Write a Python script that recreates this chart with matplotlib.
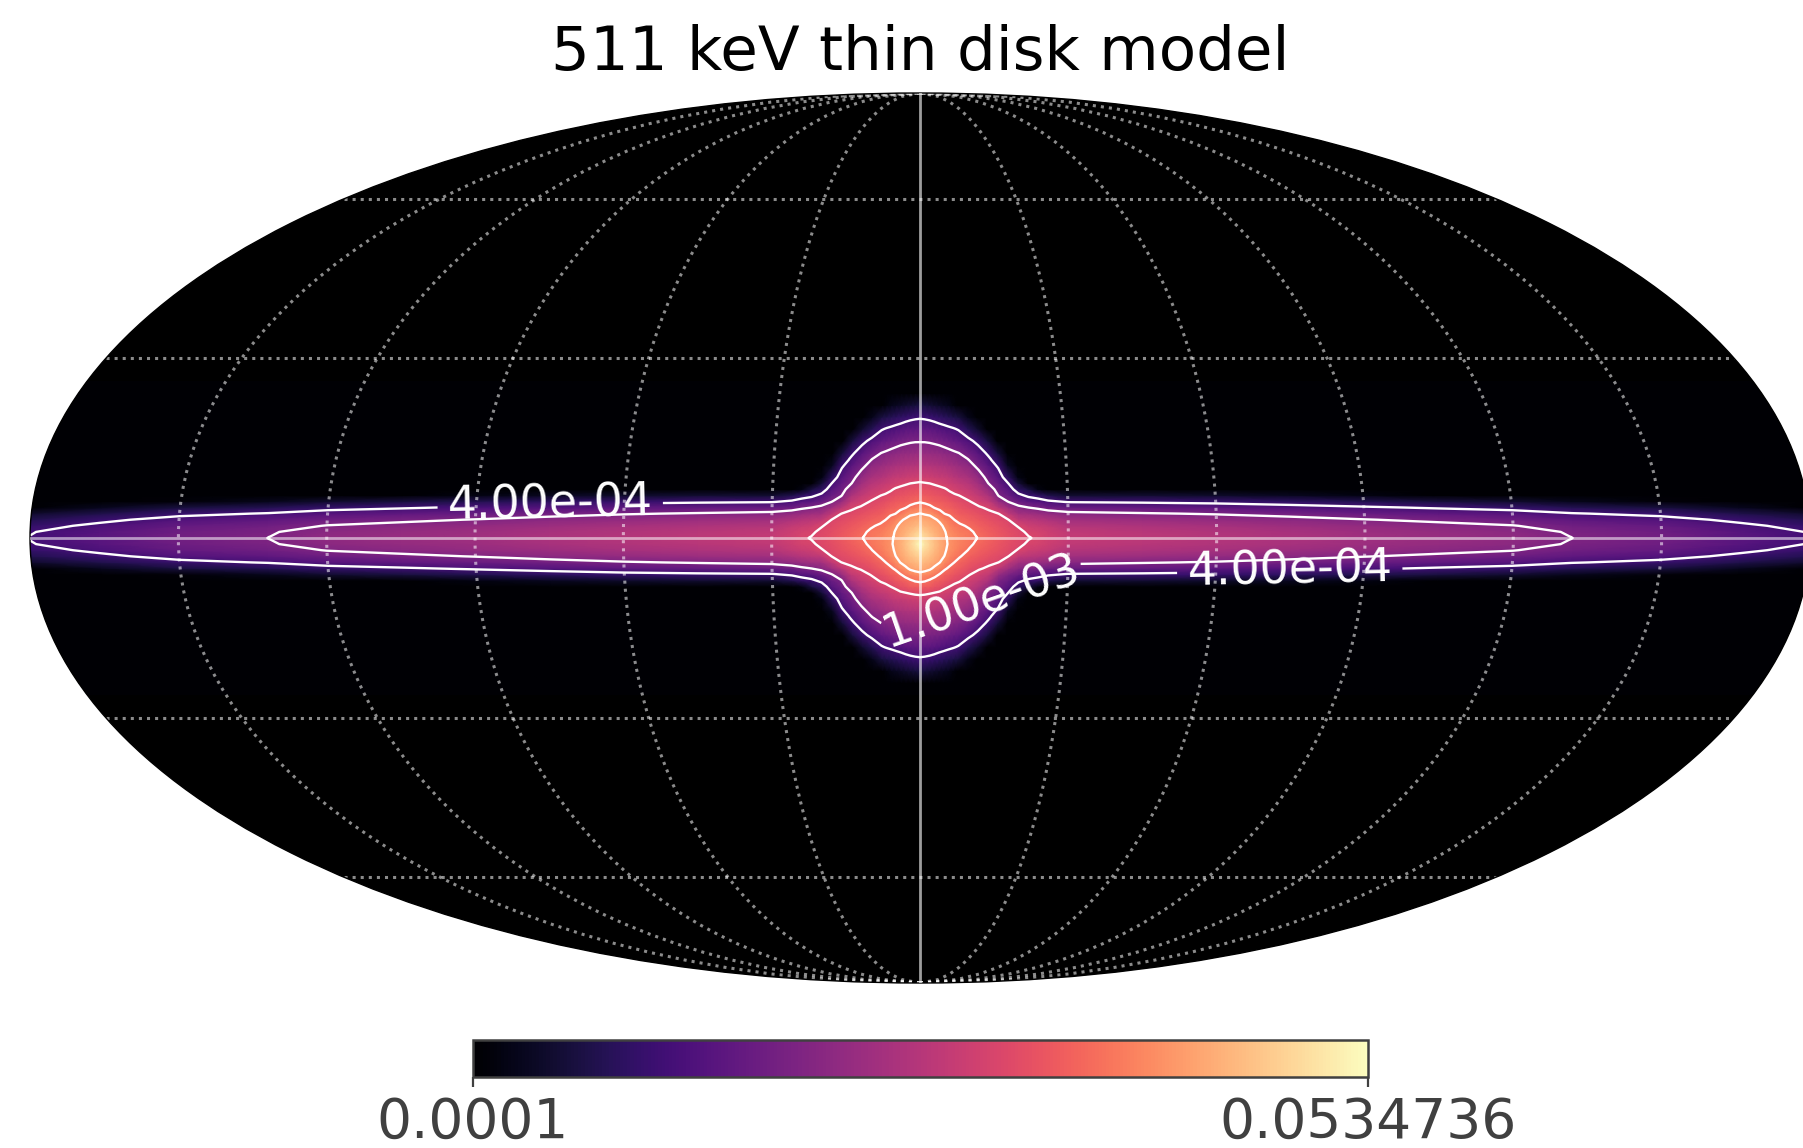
import numpy as np
import matplotlib
matplotlib.use("Agg")
import matplotlib.pyplot as plt
from matplotlib.colors import LogNorm
from matplotlib.cm import ScalarMappable

# Galactic lon/lat nodes [deg], one quadrant, log10(flux)
lon_nodes = [0, 1, 2, 3, 4, 5, 6, 7, 8, 10, 12, 14, 16, 18, 20, 22, 24, 26, 30, 45, 60, 75, 90, 105, 120, 132, 150, 166, 180]
lat_nodes = [0, 1, 2, 3, 4, 5, 6, 7, 8, 9, 10, 12, 14, 16, 18, 20, 22, 24, 26]
log_flux = [
    [-1.27, -1.38, -1.50, -1.62, -1.74, -1.88, -2.06, -2.19, -2.29, -2.38, -2.47, -2.65, -2.83, -3.02, -3.22, -3.43, -3.68, -3.98, -4.30],
    [-1.40, -1.48, -1.58, -1.68, -1.78, -1.91, -2.08, -2.20, -2.30, -2.39, -2.48, -2.66, -2.84, -3.02, -3.23, -3.44, -3.71, -4.00, -4.30],
    [-1.52, -1.58, -1.65, -1.73, -1.82, -1.95, -2.11, -2.21, -2.30, -2.40, -2.49, -2.67, -2.85, -3.03, -3.24, -3.46, -3.74, -4.03, -4.30],
    [-1.63, -1.67, -1.72, -1.78, -1.88, -2.02, -2.14, -2.24, -2.33, -2.42, -2.51, -2.68, -2.86, -3.05, -3.26, -3.49, -3.77, -4.05, -4.30],
    [-1.74, -1.76, -1.79, -1.83, -1.94, -2.09, -2.18, -2.26, -2.35, -2.44, -2.53, -2.70, -2.88, -3.07, -3.29, -3.53, -3.80, -4.07, -4.30],
    [-1.82, -1.84, -1.87, -1.92, -2.02, -2.13, -2.21, -2.29, -2.38, -2.47, -2.55, -2.73, -2.91, -3.10, -3.32, -3.56, -3.83, -4.11, -4.30],
    [-1.89, -1.91, -1.95, -2.02, -2.10, -2.18, -2.25, -2.33, -2.41, -2.50, -2.58, -2.76, -2.94, -3.13, -3.35, -3.60, -3.87, -4.15, -4.30],
    [-1.94, -1.96, -2.00, -2.07, -2.14, -2.21, -2.29, -2.36, -2.45, -2.54, -2.62, -2.79, -2.97, -3.17, -3.38, -3.64, -3.93, -4.22, -4.30],
    [-1.98, -2.00, -2.05, -2.11, -2.18, -2.25, -2.33, -2.40, -2.49, -2.57, -2.66, -2.83, -3.00, -3.21, -3.42, -3.69, -4.00, -4.30, -4.30],
    [-2.05, -2.07, -2.11, -2.19, -2.26, -2.33, -2.39, -2.47, -2.56, -2.64, -2.73, -2.91, -3.11, -3.33, -3.59, -3.87, -4.20, -4.30, -4.30],
    [-2.11, -2.14, -2.19, -2.25, -2.31, -2.38, -2.47, -2.57, -2.67, -2.78, -2.88, -3.08, -3.27, -3.47, -3.77, -4.10, -4.30, -4.30, -4.30],
    [-2.18, -2.20, -2.25, -2.30, -2.36, -2.43, -2.57, -2.71, -2.86, -3.01, -3.09, -3.26, -3.44, -3.70, -4.00, -4.30, -4.30, -4.30, -4.30],
    [-2.25, -2.27, -2.30, -2.35, -2.40, -2.61, -2.84, -3.02, -3.11, -3.19, -3.27, -3.44, -3.72, -4.08, -4.30, -4.30, -4.30, -4.30, -4.30],
    [-2.31, -2.33, -2.36, -2.40, -2.59, -2.79, -3.02, -3.15, -3.27, -3.40, -3.55, -3.85, -4.15, -4.30, -4.30, -4.30, -4.30, -4.30, -4.30],
    [-2.36, -2.37, -2.41, -2.58, -2.76, -2.94, -3.14, -3.34, -3.53, -3.72, -3.91, -4.25, -4.30, -4.30, -4.30, -4.30, -4.30, -4.30, -4.30],
    [-2.39, -2.42, -2.49, -2.61, -2.78, -3.00, -3.25, -3.45, -3.68, -3.98, -4.20, -4.30, -4.30, -4.30, -4.30, -4.30, -4.30, -4.30, -4.30],
    [-2.42, -2.44, -2.52, -2.64, -2.82, -3.05, -3.29, -3.52, -3.91, -4.15, -4.30, -4.30, -4.30, -4.30, -4.30, -4.30, -4.30, -4.30, -4.30],
    [-2.47, -2.49, -2.56, -2.69, -2.87, -3.12, -3.36, -3.62, -4.00, -4.25, -4.30, -4.30, -4.30, -4.30, -4.30, -4.30, -4.30, -4.30, -4.30],
    [-2.55, -2.57, -2.65, -2.77, -2.94, -3.16, -3.43, -3.75, -4.11, -4.30, -4.30, -4.30, -4.30, -4.30, -4.30, -4.30, -4.30, -4.30, -4.30],
    [-2.60, -2.62, -2.69, -2.81, -2.98, -3.19, -3.45, -3.75, -4.10, -4.30, -4.30, -4.30, -4.30, -4.30, -4.30, -4.30, -4.30, -4.30, -4.30],
    [-2.65, -2.67, -2.74, -2.86, -3.02, -3.23, -3.48, -3.78, -4.12, -4.30, -4.30, -4.30, -4.30, -4.30, -4.30, -4.30, -4.30, -4.30, -4.30],
    [-2.71, -2.73, -2.80, -2.92, -3.08, -3.29, -3.54, -3.84, -4.18, -4.30, -4.30, -4.30, -4.30, -4.30, -4.30, -4.30, -4.30, -4.30, -4.30],
    [-2.78, -2.80, -2.87, -2.99, -3.15, -3.36, -3.61, -3.91, -4.25, -4.30, -4.30, -4.30, -4.30, -4.30, -4.30, -4.30, -4.30, -4.30, -4.30],
    [-2.83, -2.85, -2.93, -3.05, -3.21, -3.43, -3.69, -4.01, -4.30, -4.30, -4.30, -4.30, -4.30, -4.30, -4.30, -4.30, -4.30, -4.30, -4.30],
    [-2.89, -2.92, -2.99, -3.11, -3.28, -3.49, -3.76, -4.07, -4.30, -4.30, -4.30, -4.30, -4.30, -4.30, -4.30, -4.30, -4.30, -4.30, -4.30],
    [-3.00, -3.02, -3.10, -3.22, -3.38, -3.60, -3.86, -4.18, -4.30, -4.30, -4.30, -4.30, -4.30, -4.30, -4.30, -4.30, -4.30, -4.30, -4.30],
    [-3.09, -3.11, -3.18, -3.30, -3.47, -3.69, -3.95, -4.26, -4.30, -4.30, -4.30, -4.30, -4.30, -4.30, -4.30, -4.30, -4.30, -4.30, -4.30],
    [-3.25, -3.27, -3.34, -3.46, -3.63, -3.85, -4.11, -4.30, -4.30, -4.30, -4.30, -4.30, -4.30, -4.30, -4.30, -4.30, -4.30, -4.30, -4.30],
    [-3.39, -3.41, -3.49, -3.61, -3.77, -3.99, -4.25, -4.30, -4.30, -4.30, -4.30, -4.30, -4.30, -4.30, -4.30, -4.30, -4.30, -4.30, -4.30],
]
# the core sits a little south of the plane, so it gets its own rows, lat +10 ... -10
core_lon = [0, 1, 2, 3, 4, 5, 6, 7, 8, 10]
core_lat = [10, 9, 8, 7, 6, 5, 4, 3, 2, 1, 0, -1, -2, -3, -4, -5, -6, -7, -8, -9, -10]
core_flux = [
    [-2.47, -2.38, -2.30, -2.22, -2.12, -1.98, -1.85, -1.74, -1.62, -1.50, -1.38, -1.28, -1.40, -1.52, -1.63, -1.74, -1.92, -2.06, -2.20, -2.35, -2.47],
    [-2.48, -2.39, -2.31, -2.23, -2.14, -2.01, -1.87, -1.77, -1.68, -1.58, -1.49, -1.42, -1.50, -1.59, -1.68, -1.78, -1.94, -2.08, -2.21, -2.36, -2.48],
    [-2.49, -2.40, -2.32, -2.25, -2.17, -2.05, -1.88, -1.80, -1.73, -1.65, -1.58, -1.53, -1.58, -1.65, -1.73, -1.82, -1.98, -2.12, -2.23, -2.38, -2.49],
    [-2.51, -2.42, -2.34, -2.27, -2.20, -2.11, -1.96, -1.83, -1.77, -1.72, -1.67, -1.64, -1.67, -1.72, -1.78, -1.90, -2.04, -2.17, -2.29, -2.40, -2.51],
    [-2.53, -2.44, -2.36, -2.29, -2.22, -2.13, -2.05, -1.89, -1.81, -1.79, -1.76, -1.74, -1.76, -1.80, -1.85, -1.97, -2.11, -2.21, -2.31, -2.42, -2.53],
    [-2.55, -2.47, -2.38, -2.31, -2.24, -2.17, -2.10, -1.99, -1.89, -1.84, -1.82, -1.81, -1.83, -1.86, -1.95, -2.07, -2.18, -2.26, -2.36, -2.46, -2.55],
    [-2.58, -2.50, -2.42, -2.35, -2.27, -2.19, -2.12, -2.05, -1.98, -1.93, -1.90, -1.89, -1.91, -1.96, -2.04, -2.13, -2.22, -2.31, -2.40, -2.49, -2.58],
    [-2.62, -2.54, -2.45, -2.38, -2.31, -2.24, -2.17, -2.10, -2.03, -1.98, -1.95, -1.95, -1.97, -2.03, -2.10, -2.19, -2.27, -2.35, -2.44, -2.53, -2.62],
    [-2.66, -2.57, -2.49, -2.40, -2.34, -2.27, -2.21, -2.14, -2.07, -2.02, -1.99, -1.99, -2.03, -2.08, -2.16, -2.23, -2.31, -2.38, -2.47, -2.56, -2.66],
    [-2.73, -2.64, -2.56, -2.47, -2.39, -2.33, -2.26, -2.19, -2.12, -2.07, -2.05, -2.07, -2.11, -2.18, -2.25, -2.32, -2.39, -2.47, -2.56, -2.64, -2.73],
]
contour_levels = [4e-4, 1e-3, 4e-3, 8e-3, 1.4e-2]
# (lon, lat) [deg] where the three contour labels sit
label_spots = [(-75, 5.5), (75, -5.5), (12.4, -10.4)]
flux_min = 0.0001
flux_max = 0.0534736
title = "511 keV thin disk model"
W, H = 1803, 1148

# mirror the quadrant to the whole sky
q = np.array(log_flux).T
q = np.hstack([q[:, :0:-1], q])
q = np.vstack([q[:0:-1], q])
lon_deg = np.r_[-np.array(lon_nodes[:0:-1]), lon_nodes]
lat_deg = np.r_[-np.array(lat_nodes[:0:-1]), lat_nodes]
for l, col in zip(core_lon, core_flux):
    for b, v in zip(core_lat, col):
        q[lat_deg == b, (lon_deg == l) | (lon_deg == -l)] = v
LON, LAT = np.meshgrid(np.radians(lon_deg), np.radians(lat_deg))

fig = plt.figure(figsize=(W / 100, H / 100), dpi=100)
ax = fig.add_axes([30 / W, (H - 983) / H, 1780 / W, 890 / H], projection="mollweide")
ax.set_facecolor("black")
ax.pcolormesh(LON, LAT, q, shading="gouraud", cmap="magma", rasterized=True,
              vmin=np.log10(flux_min), vmax=np.log10(flux_max))

ax.set_longitude_grid_ends(90)
ax.set_xticks(np.radians([-150, -120, -90, -60, -30, 30, 60, 90, 120, 150]))
ax.set_yticks(np.radians([-60, -30, 30, 60]))
ax.grid(True, color="white", alpha=0.55, linestyle=":", linewidth=2.2)
ax.set_xticklabels([])
ax.set_yticklabels([])
ax.plot([0, 0], np.radians([-90, 90]), color="white", alpha=0.62, lw=2.0, zorder=3)
ax.plot(np.radians([-180, 180]), [0, 0], color="white", alpha=0.55, lw=2.0, zorder=3)
for s in ax.spines.values():
    s.set_color("black")
    s.set_linewidth(1.0)

cs = ax.contour(LON, LAT, q, levels=np.log10(contour_levels), colors="white", linewidths=1.7,
                linestyles="solid", zorder=2)
ax.clabel(cs, levels=cs.levels[:2], fmt=lambda v: f"{10 ** v:.2e}", fontsize=33, colors="white", inline=True,
          inline_spacing=10, manual=[(np.radians(a), np.radians(b)) for a, b in label_spots])

ax.set_title(title, fontsize=44, pad=16.5)

cax = fig.add_axes([473 / W, (H - 1077) / H, 895 / W, 37 / H])
cb = fig.colorbar(ScalarMappable(LogNorm(flux_min, flux_max), cmap="magma"), cax=cax, orientation="horizontal")
cb.set_ticks([flux_min, flux_max], labels=[f"{flux_min:g}", f"{flux_max:g}"])
cb.minorticks_off()
cb.outline.set_edgecolor("#404040")
cb.outline.set_linewidth(1.8)
cax.tick_params(axis="x", length=7.5, width=1.6, color="#404040", labelcolor="#404040", labelsize=39.6, pad=6)

fig.savefig("out.png", dpi=100)
